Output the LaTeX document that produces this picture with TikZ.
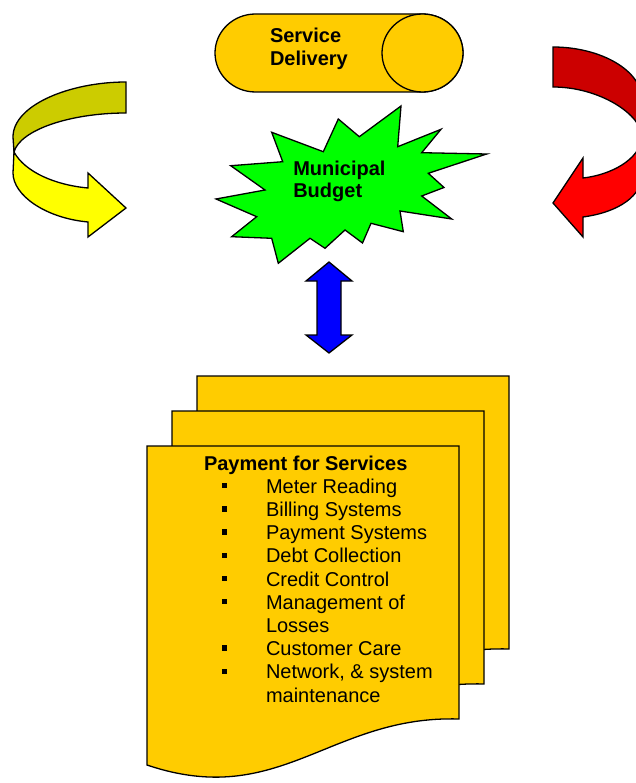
\documentclass[tikz,border=0pt]{standalone}
\usepackage{fontspec}
\setmainfont{Liberation Sans}
\definecolor{goldfill}{HTML}{FFCC00}
\definecolor{stargreen}{HTML}{00FF00}
\definecolor{arrowblue}{HTML}{0000FF}
\definecolor{yellowlight}{HTML}{FFFF00}
\definecolor{yellowdark}{HTML}{CCCC00}
\definecolor{redlight}{HTML}{FF0000}
\definecolor{reddark}{HTML}{CC0000}
\newcommand\mysqbullet{\rule[4.8pt]{5.5pt}{5.5pt}}
\newcommand\mybulletcell{\makebox[62pt][l]{\hspace*{17.5pt}\mysqbullet}}
\begin{document}
\begin{tikzpicture}[x=1pt,y=-1pt,
  outl/.style={draw=black, line width=1.3pt, line join=miter},
  txt/.style={inner sep=0pt, outer sep=0pt, anchor=base west,
    font=\fontsize{20}{23.2}\selectfont, align=left}]
\useasboundingbox (0,0) rectangle (636,783);

% ---------- Service Delivery (horizontal cylinder) ----------
\path[outl, fill=goldfill] (255.5,14) -- (422.5,14) arc (-90:90:40.5 and 39)
  -- (255.5,92) arc (90:270:40.5 and 39) -- cycle;
\path[outl, fill=goldfill] (422.5,53) ellipse [x radius=40.5, y radius=39];
\node[txt, font=\fontsize{20}{23.5}\selectfont\bfseries] (service) at (270,66)
  {Service\\Delivery};

% ---------- Municipal Budget (starburst) ----------
\path[outl, fill=stargreen]
  (338.3,119) -- (359.3,136.7) -- (401,106) -- (397.7,146.7) -- (441,129.3)
  -- (421.7,152.7) -- (486.7,154) -- (428.3,173.3) -- (444,187.5)
  -- (421.7,196) -- (451.7,219) -- (400,211) -- (403.3,231.7)
  -- (371,223.3) -- (362.5,243) -- (345,230) -- (325,248.3)
  -- (310,238.3) -- (278.3,263.3) -- (271.7,238.3) -- (231.7,236.7)
  -- (256.7,216.7) -- (216,199) -- (265,190) -- (230.7,165.7)
  -- (282.7,161.7) -- (271.7,132.3) -- (323.3,151.7) -- cycle;
\node[txt, font=\fontsize{20}{22.5}\selectfont\bfseries] (budget) at (293.3,198)
  {Municipal\\Budget};

% ---------- yellow curved arrow (left) ----------
\path[outl, fill=yellowdark] (126,82) .. controls (70,82) and (13,105) .. (13,137)
  -- (14,152) .. controls (20,130) and (70,113) .. (126,113) -- cycle;
\path[outl, fill=yellowlight] (14,152) .. controls (25,172) and (55,185) .. (88,188)
  -- (88,173) -- (126,208) -- (88,237) -- (88,222)
  .. controls (45,218) and (13,195) .. (13,173) -- cycle;

% ---------- red curved arrow (right) ----------
\path[outl, fill=reddark] (553,47) .. controls (600,47) and (642,70) .. (642,100)
  -- (642,137) .. controls (642,115) and (600,87) .. (553,87) -- cycle;
\path[outl, fill=redlight] (642,137) .. controls (640,160) and (610,175) .. (583,178)
  -- (583,158) -- (553,203) -- (583,237) -- (583,217)
  .. controls (620,212) and (642,195) .. (642,175) -- cycle;

% ---------- blue double arrow ----------
\path[outl, fill=arrowblue] (329,262) -- (352,281) -- (341,281) -- (341,335)
  -- (352,335) -- (329,353) -- (306,335) -- (317,335) -- (317,281)
  -- (306,281) -- cycle;

% ---------- stacked documents ----------
\foreach \dx/\dy in {50/-70, 25/-35, 0/0} {
  \path[outl, fill=goldfill, shift={(\dx,\dy)}]
    (147,446) -- (459,446) -- (459,719)
    .. controls (330,715) and (280,810) .. (147,765) -- cycle;
}
\node[txt] (payment) at (204,470) {%
  \begin{tabular}[t]{@{}l@{}l@{}}
  \multicolumn{2}{@{}l@{}}{\bfseries Payment for Services}\\
  \mybulletcell & Meter Reading\\
  \mybulletcell & Billing Systems\\
  \mybulletcell & Payment Systems\\
  \mybulletcell & Debt Collection\\
  \mybulletcell & Credit Control\\
  \mybulletcell & Management of\\
  & Losses\\
  \mybulletcell & Customer Care\\
  \mybulletcell & Network, \& system\\
  & maintenance
  \end{tabular}};
\end{tikzpicture}
\end{document}
